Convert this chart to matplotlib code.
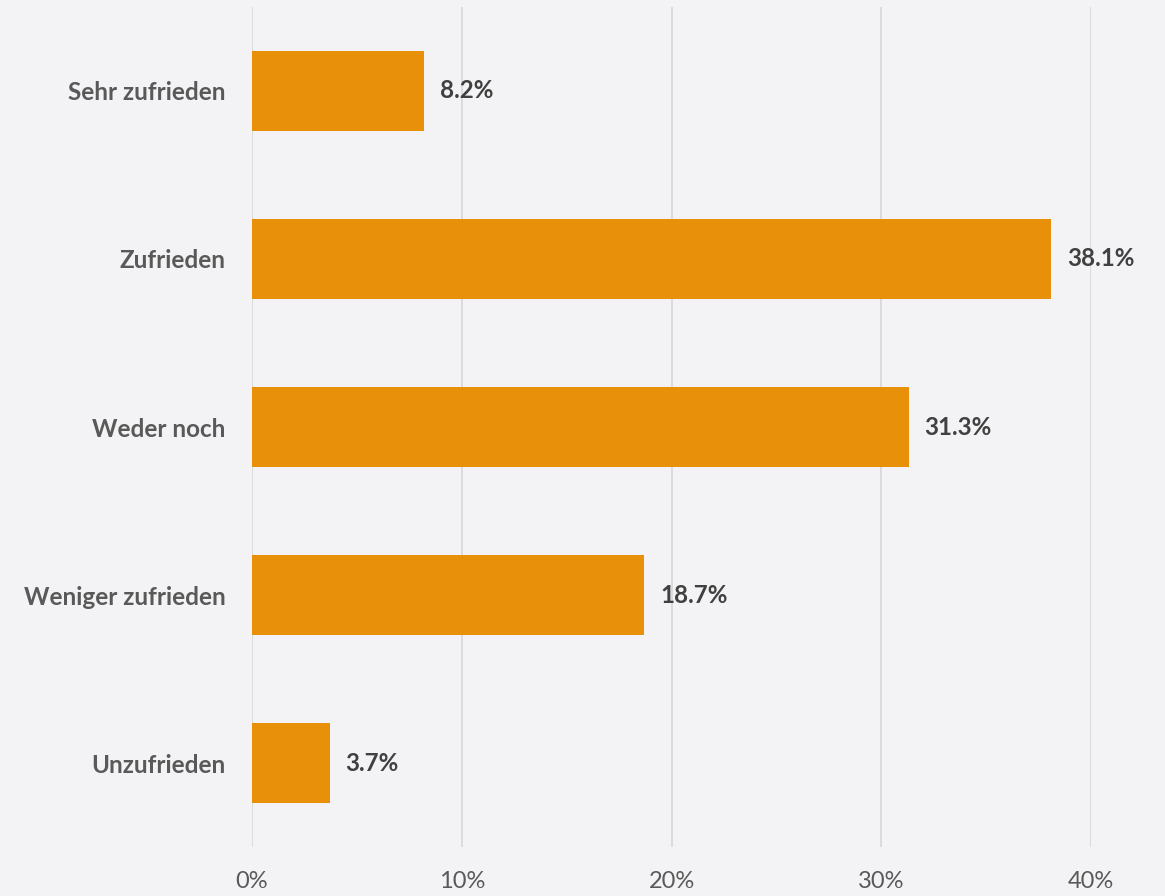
import matplotlib
matplotlib.use("Agg")
import matplotlib.pyplot as plt
from matplotlib.ticker import FuncFormatter
from matplotlib.transforms import offset_copy

categories = ["Sehr zufrieden", "Zufrieden", "Weder noch", "Weniger zufrieden", "Unzufrieden"]
values = [8.2, 38.1, 31.3, 18.7, 3.7]
xticks = [0, 10, 20, 30, 40]

bg = "#F3F3F5"
fig = plt.figure(figsize=(11.65, 8.96), dpi=100, facecolor=bg)
W, H = 1165, 896
ax = fig.add_axes([252 / W, 1 - 847 / H, (1091 - 252) / W, (847 - 7) / H])
ax.set_facecolor(bg)

y = list(range(len(categories)))
ax.barh(y, values, height=0.476, color="#E8900A", zorder=3)
ax.set_ylim(len(categories) - 0.5, -0.5)
ax.set_xlim(0, 40)
ax.set_yticks(y)
ax.set_yticklabels(categories, fontfamily="Lato", fontweight="bold", fontsize=17.5, color="#595959")
ax.set_xticks(xticks)
ax.xaxis.set_major_formatter(FuncFormatter(lambda v, p: f"{v:.0f}%"))
for lab in ax.get_xticklabels():
    lab.set_fontfamily("Lato")
    lab.set_fontsize(17)
    lab.set_color("#595959")
ax.tick_params(axis="both", length=0)
ax.tick_params(axis="y", pad=19)
ax.tick_params(axis="x", pad=17)
ax.grid(axis="x", color="#D9D9D9", linewidth=1.3, zorder=0)
for s in ax.spines.values():
    s.set_visible(False)

trans = offset_copy(ax.transData, fig=fig, x=16, y=0, units="dots")
for yi, v in zip(y, values):
    ax.text(v, yi, f"{v:.1f}%", transform=trans, ha="left", va="center",
            fontfamily="Lato", fontweight="bold", fontsize=17.4, color="#404040", clip_on=False)

fig.savefig("out.png", dpi=100, facecolor=bg)
